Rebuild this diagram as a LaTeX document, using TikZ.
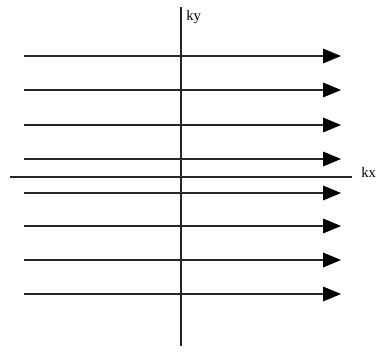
\documentclass[tikz,border=0pt]{standalone}
\usepackage{fontspec}
\setmainfont{Liberation Serif}
\usetikzlibrary{arrows.meta}
\tikzset{
  axisline/.style={line width=0.9pt, black!85},
  waveline/.style={line width=0.9pt, black!85, -{Triangle[length=13.5pt,width=11pt,black]}},
  axislabel/.style={font=\fontsize{11pt}{13pt}\selectfont, inner sep=0pt, anchor=west}
}
\begin{document}
\begin{tikzpicture}[x=0.75pt,y=-0.75pt]
\useasboundingbox (0,0) rectangle (378,351);
% axes
\coordinate (kyb) at (181,346);
\coordinate (kyt) at (181,7);
\coordinate (kxl) at (10,177);
\coordinate (kxr) at (352,177);
\draw[axisline] (kyb) -- (kyt);
\draw[axisline] (kxl) -- (kxr);
\node[axislabel] (kylab) at (186,17) {ky};
\node[axislabel] (kxlab) at (361,172) {kx};
% wave vectors
\foreach \yy [count=\i] in {56,90,125,159,193,226,260,294} {
  \coordinate (w\i s) at (24,\yy);
  \coordinate (w\i e) at (341,\yy);
  \draw[waveline] (w\i s) -- (w\i e);
}
\end{tikzpicture}
\end{document}
